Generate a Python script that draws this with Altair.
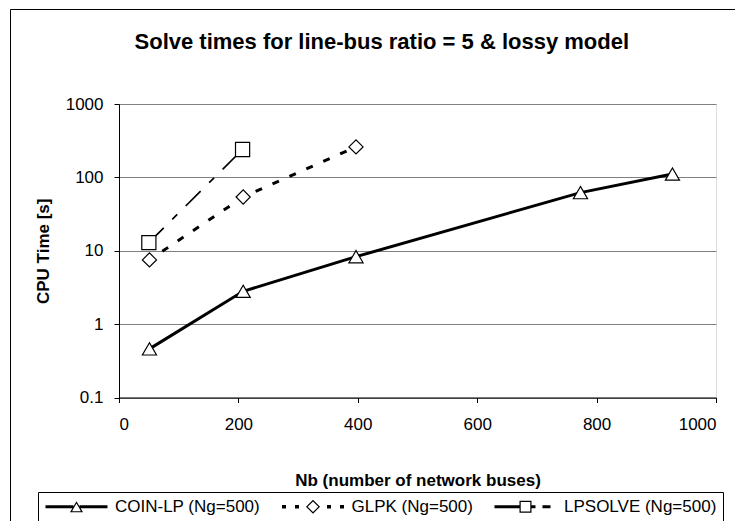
import altair as alt
import pandas as pd

# ---- data ----
series_names = ["COIN-LP (Ng=500)", "GLPK (Ng=500)", "LPSOLVE (Ng=500)"]
coin_nb = [51, 208, 397, 773, 927]
coin_time = [0.46, 2.8, 8.3, 62, 111]
glpk_nb = [51, 208, 397]
glpk_time = [7.5, 54, 260]
lps_nb = [50, 207]
lps_time = [12.9, 240]
x_ticks = [0, 200, 400, 600, 800, 1000]
y_ticks = [0.1, 1, 10, 100, 1000]

rows = []
for name, xs, ys in zip(series_names, [coin_nb, glpk_nb, lps_nb], [coin_time, glpk_time, lps_time]):
    for xv, yv in zip(xs, ys):
        rows.append({"series": name, "nb": xv, "time": yv})
df = pd.DataFrame(rows)

FONT = "Liberation Sans"

# ---- legend symbol paths (line + open marker), in symbol units ----
R = 7.0   # px per unit (symbol size 196)
C = 7.0   # symbol centre inside its slot


def pt(x, y):
    return f"{(x - C) / R:.3f},{y / R:.3f}"


def poly(points):
    return "M" + "L".join(pt(x, y) for x, y in points) + "Z"


def rect(x0, x1, h):
    return poly([(x0, -h / 2), (x1, -h / 2), (x1, h / 2), (x0, h / 2)])


def ring(points, cx, cy, apothem, t):
    k = (apothem - t) / apothem
    inner = [(cx + k * (x - cx), cy + k * (y - cy)) for x, y in points][::-1]
    return poly(points) + poly(inner)


tri = [(31, -5.6), (37.5, 5.6), (24.5, 5.6)]
coin_path = rect(0, 27.9, 3) + rect(34.1, 62, 3) + ring(tri, 31, 1.87, 3.76, 1.2)
dia = [(31, -7), (38, 0), (31, 7), (24, 0)]
glpk_path = (rect(0, 4, 3.5) + rect(13, 17, 3.5) + rect(45, 49, 3.5) + rect(58, 62, 3.5)
             + ring(dia, 31, 0, 4.95, 1.2))
sq = [(25, -6), (37, -6), (37, 6), (25, 6)]
lps_path = rect(0, 25, 3) + rect(37, 41, 3) + rect(48, 56, 3) + ring(sq, 31, 0, 6, 1.2)
legend_paths = [coin_path, glpk_path, lps_path]

line_styles = [
    dict(strokeWidth=3),
    dict(strokeWidth=3, strokeDash=[7, 11.5], strokeDashOffset=3),
    dict(strokeWidth=1.7, strokeDash=[21, 12, 7, 12]),
]

x_enc = alt.X("nb:Q", scale=alt.Scale(domain=[0, 1000], nice=False),
              axis=alt.Axis(values=x_ticks, format="d", title="Nb (number of network buses)",
                            grid=False, domainColor="black", tickColor="black", tickSize=5,
                            labelFontSize=17, labelFont=FONT, labelColor="black",
                            labelBaseline="alphabetic", labelPadding=27,
                            titleFontSize=17, titleFont=FONT, titleFontWeight="bold",
                            titleColor="black", titleBaseline="alphabetic", titleY=88))
y_enc = alt.Y("time:Q", scale=alt.Scale(type="log", domain=[0.1, 1000], nice=False),
              axis=alt.Axis(values=y_ticks, format="~g", title="CPU Time [s]",
                            grid=True, gridColor="#808080", gridWidth=1,
                            domainColor="black", tickColor="black", tickSize=5,
                            labelFontSize=17, labelFont=FONT, labelColor="black", labelPadding=11,
                            titleFontSize=17, titleFont=FONT, titleFontWeight="bold",
                            titleColor="black", titleBaseline="alphabetic",
                            titleX=-70.6, titleY=146.75, titleAngle=270))

base = alt.Chart(df)

lines = []
for name, st in zip(series_names, line_styles):
    lines.append(
        base.transform_filter(alt.datum.series == name)
        .mark_line(color="black", **st)
        .encode(x=x_enc, y=y_enc, order="nb:Q")
    )

points = base.mark_point(filled=True, fill="white", stroke="black", strokeWidth=1.2,
                         size=200, opacity=1).encode(
    x=x_enc, y=y_enc,
    shape=alt.Shape("series:N", scale=alt.Scale(domain=series_names,
                                                range=["triangle-up", "diamond", "square"]),
                    legend=None),
)

legend_layer = base.transform_calculate(leg="datum.series").mark_point(
    filled=True, color="black", opacity=0, size=196, strokeWidth=0
).encode(
    x=x_enc, y=y_enc,
    shape=alt.Shape("leg:N", scale=alt.Scale(domain=series_names, range=legend_paths),
                    legend=alt.Legend(title=None, orient="none", legendX=-81, legendY=388,
                                      direction="horizontal", symbolOpacity=1,
                                      symbolFillColor="black", symbolStrokeWidth=0,
                                      symbolSize=196, labelFont=FONT, labelFontSize=17,
                                      labelColor="black", labelOffset=54, columnPadding=19.5,
                                      padding=6, strokeColor="black")),
)

one = alt.Data(values=[{}])
border_left = alt.Chart(one).mark_rule(color="black", strokeWidth=1).encode(
    x=alt.value(-108.5), y=alt.value(-94.5), y2=alt.value(700))
border_top = alt.Chart(one).mark_rule(color="black", strokeWidth=1).encode(
    x=alt.value(-108.5), x2=alt.value(900), y=alt.value(-94.5))

chart = alt.layer(border_left, border_top, *lines, points, legend_layer).resolve_scale(
    shape="independent"
).properties(
    width=597, height=293.5,
    title=alt.TitleParams("Solve times for line-bus ratio = 5 & lossy model", fontSize=22,
                          fontWeight="bold", font=FONT, color="black", anchor="middle",
                          dx=-35.7, offset=-62, baseline="alphabetic"),
    autosize=alt.AutoSizeParams(type="none"),
    padding={"left": 111, "top": 96, "right": 19, "bottom": 123},
).configure_view(stroke="#808080", strokeWidth=1).configure(font=FONT, background="white")

chart.save("out.html", embed_options={"renderer": "svg", "actions": False})
